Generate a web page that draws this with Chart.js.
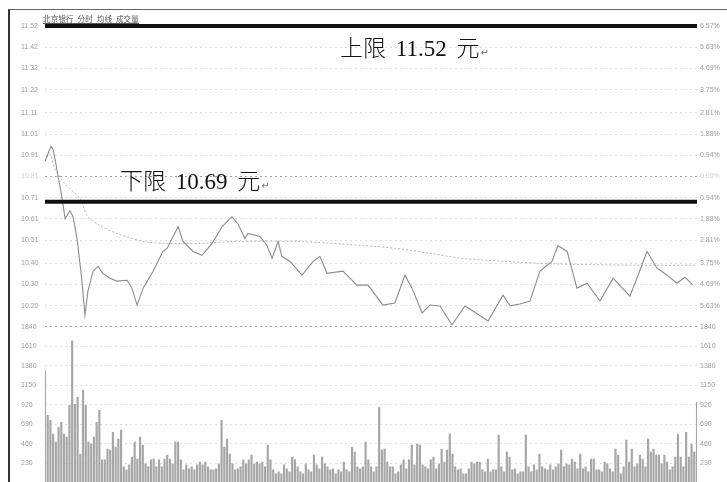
<!DOCTYPE html>
<html><head><meta charset="utf-8">
<script src="https://cdn.jsdelivr.net/npm/chart.js@4.4.0/dist/chart.umd.min.js"></script>
<style>
html,body{margin:0;padding:0;background:#fff;overflow:hidden;width:727px;height:482px}
#wrap{position:relative;width:727px;height:490px}
canvas{position:absolute;left:0;top:0}
.frame{position:absolute;left:8px;top:9px;width:719px;height:480px;border-left:2px solid #333;border-top:1px solid #666;pointer-events:none}
.title{position:absolute;left:43px;top:13px;font:7.5px "Noto Sans CJK SC",sans-serif;color:#555;text-decoration:underline;white-space:nowrap;letter-spacing:0.2px}
.ann{position:absolute;font-family:"Liberation Serif","Noto Sans CJK SC",serif;font-size:23px;line-height:23px;color:#111;white-space:nowrap}
.ann .cjk{font-family:"Noto Sans CJK SC",sans-serif;font-weight:300}
.ann .num{margin-left:4px;margin-right:4px}
.ann .ret{font-family:"DejaVu Sans",sans-serif;font-size:10px;color:#777;margin-left:1px}
</style></head>
<body>
<div id="wrap">
<canvas id="c" width="727" height="490"></canvas>
<div class="frame"></div>
<div class="title">北京银行 &nbsp;分时 &nbsp;均线 &nbsp;成交量</div>
<div class="ann" style="left:340px;top:35px"><span class="cjk">上限</span> <span class="num">11.52</span> <span class="cjk">元</span><span class="ret">↵</span></div>
<div class="ann" style="left:120px;top:168px"><span class="cjk">下限</span> <span class="num">10.69</span> <span class="cjk">元</span><span class="ret">↵</span></div>
</div>
<script>
// ---- data ----
const sessionMinutes = [0, 240];
const upperLimit = 11.52;
const lowerLimit = 10.69;
const priceMinutes = [0,1.5,2.2,2.9,3.7,4.8,6.3,7.4,9.2,10.3,11.8,13.6,14.7,15.8,17.7,19.5,21.3,23.9,26.5,30.2,32.0,33.9,36.1,39.8,43.4,44.9,49.0,50.8,54.5,57.8,61.5,65.2,68.8,71.0,73.6,74.7,79.1,81.7,83.6,85.8,87.2,90.2,94.6,98.7,101.2,103.8,109.7,114.8,118.9,124.4,128.8,132.5,135.1,138.8,141.7,145.4,149.8,154.6,157.5,163.1,168.6,171.2,174.8,178.5,182.2,184.8,186.6,188.8,192.2,195.8,199.5,204.3,209.1,215.3,218.3,221.6,225.3,229.0,232.6,235.6,238.5];
const priceValues = [10.883,10.930,10.953,10.939,10.892,10.812,10.705,10.611,10.648,10.620,10.517,10.316,10.156,10.269,10.363,10.386,10.353,10.330,10.316,10.320,10.283,10.203,10.283,10.363,10.456,10.470,10.573,10.503,10.456,10.438,10.494,10.573,10.620,10.587,10.517,10.541,10.527,10.484,10.423,10.503,10.433,10.409,10.344,10.409,10.433,10.353,10.363,10.297,10.297,10.203,10.213,10.344,10.283,10.166,10.203,10.199,10.110,10.199,10.175,10.128,10.250,10.199,10.208,10.222,10.363,10.391,10.409,10.484,10.456,10.283,10.306,10.222,10.330,10.245,10.344,10.456,10.377,10.344,10.306,10.334,10.297];
const avgMinutes = [0,1.8,3.7,7.4,12.9,15.5,20.2,26.5,32.4,36.1,44.9,57.1,69.2,92.8,117.1,129.6,141.7,153.9,170.1,182.2,194.4,219.0,240];
const avgValues = [10.883,10.916,10.845,10.775,10.705,10.625,10.578,10.541,10.517,10.503,10.494,10.494,10.503,10.503,10.484,10.470,10.447,10.423,10.409,10.400,10.395,10.391,10.391];
const volumeValues = [
1324,797,738,574,480,656,715,574,539,914,1676,926,1008,340,1090,914,480,457,539,715,855,270,270,398,387,597,422,516,621,188,152,211,305,480,281,539,445,223,188,270,281,188,270,188,281,328,281,223,480,480,270,152,211,164,188,152,211,246,211,246,188,152,152,164,223,738,422,516,340,223,152,164,188,270,
223,270,328,223,246,223,246,188,445,270,152,105,129,105,211,164,129,305,270,188,129,105,223,152,129,328,211,164,305,223,188,152,164,105,152,129,246,152,129,422,363,188,164,188,480,270,188,129,188,890,387,398,246,188,188,105,129,211,270,164,270,445,211,457,445,211,188,164,270,305,164,223,398,246,387,574,340,188,152,164,105,105,164,246,
223,246,246,152,129,281,129,152,152,562,188,129,363,305,152,164,105,129,129,562,188,129,211,152,340,188,164,152,211,152,188,223,387,188,223,211,281,246,164,340,164,188,129,281,281,152,152,129,246,223,164,129,398,328,105,188,504,246,398,188,223,328,281,188,516,363,398,328,328,223,328,246,152,188,305,574,305,188,597,305,457,363,950];
const priceTicks = [11.52,11.42,11.32,11.22,11.11,11.01,10.91,10.81,10.71,10.61,10.51,10.40,10.30,10.20];
const priceTickLabels = ['11.52','11.42','11.32','11.22','11.11','11.01','10.91','10.81','10.71','10.61','10.51','10.40','10.30','10.20'];
const pctTickLabels = ['6.57%','5.63%','4.69%','3.75%','2.81%','1.88%','0.94%','0.00%','0.94%','1.88%','2.81%','3.75%','4.69%','5.63%'];
const volumeTicks = [1840,1610,1380,1150,920,690,460,230];
const priceMin = 10.10, priceMax = 11.52, volMax = 1840;

// ---- chart ----
const tickFont = {family:'Liberation Sans', size:7};
const lblColor = '#9c9c9c';
function setTicks(list){ return s => { s.ticks = list.map(v => ({value:v})); }; }
const midIdx = priceTicks.indexOf(10.81);

new Chart(document.getElementById('c'), {
  data: {
    datasets: [
      {type:'line', data: sessionMinutes.map(m => ({x:m, y:upperLimit})), yAxisID:'yPrice', borderColor:'#111', borderWidth:4, pointRadius:0, clip:false},
      {type:'line', data: sessionMinutes.map(m => ({x:m, y:lowerLimit})), yAxisID:'yPrice', borderColor:'#111', borderWidth:4, pointRadius:0, clip:false},
      {type:'line', data: priceMinutes.map((m,i) => ({x:m, y:priceValues[i]})), yAxisID:'yPrice', borderColor:'#8c8c8c', borderWidth:1.1, pointRadius:0, tension:0},
      {type:'line', data: avgMinutes.map((m,i) => ({x:m, y:avgValues[i]})), yAxisID:'yPrice', borderColor:'#b4b4b4', borderWidth:1, borderDash:[2,2], pointRadius:0, tension:0.3},
      {type:'bar', data: volumeValues.map((v,i) => ({x:i, y:v})), yAxisID:'yVol', backgroundColor:'#a6a6a6', barThickness:1.5}
    ]
  },
  options: {
    responsive:false, animation:false, events:[],
    layout:{padding:{left:21, right:0, top:26, bottom:4}},
    plugins:{legend:{display:false}, tooltip:{enabled:false}},
    scales: {
      x: {type:'linear', min:0, max:240, display:false, offset:false, grid:{offset:false}},
      yVol: {type:'linear', position:'left', stack:'left', stackWeight:157, min:0, max:volMax,
        afterBuildTicks: setTicks(volumeTicks), afterFit: s => { s.width = 24; },
        grid:{color: c => c.tick && c.tick.value === volMax ? '#a8a8a8' : '#e0e0e0', lineWidth:1, drawTicks:false},
        border:{display:false, dash:[2,3]},
        ticks:{autoSkip:false, font:tickFont, color:lblColor, crossAlign:'far', padding:0, callback: v => String(v)}},
      yPrice: {type:'linear', position:'left', stack:'left', stackWeight:303, min:priceMin, max:priceMax,
        afterBuildTicks: setTicks(priceTicks), afterFit: s => { s.width = 24; },
        grid:{color: c => c.tick && c.tick.value === 10.81 ? '#a0a0a0' : '#dedede', lineWidth:1, drawTicks:false},
        border:{display:false, dash:[2,3]},
        ticks:{autoSkip:false, font:tickFont, color: c => c.index === midIdx ? '#d0d0d0' : lblColor, crossAlign:'far', padding:0,
          callback: v => priceTickLabels[priceTicks.indexOf(v)]}},
      yPct: {type:'linear', position:'right', stack:'right', stackWeight:303, min:priceMin, max:priceMax,
        afterBuildTicks: setTicks(priceTicks), afterFit: s => { s.width = 30; },
        grid:{display:false, drawTicks:false}, border:{display:false},
        ticks:{autoSkip:false, font:tickFont, color: c => c.index === midIdx ? '#d0d0d0' : lblColor, crossAlign:'near', padding:3,
          callback: v => pctTickLabels[priceTicks.indexOf(v)]}},
      yVol2: {type:'linear', position:'right', stack:'right', stackWeight:157, min:0, max:volMax,
        afterBuildTicks: setTicks(volumeTicks), afterFit: s => { s.width = 30; },
        grid:{display:false, drawTicks:false}, border:{display:false},
        ticks:{autoSkip:false, font:tickFont, color:lblColor, crossAlign:'near', padding:3, callback: v => String(v)}}
    }
  }
});
</script>
</body></html>
